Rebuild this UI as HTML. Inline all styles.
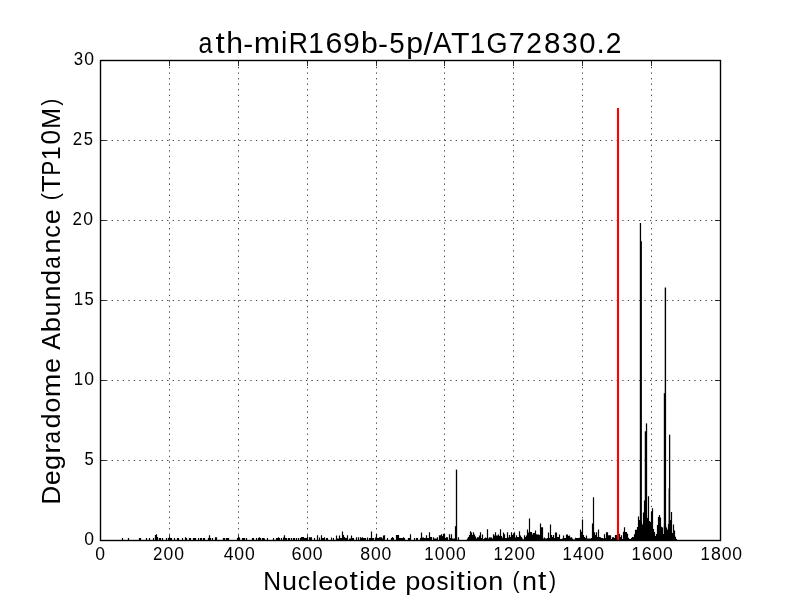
<!DOCTYPE html><html><head><meta charset="utf-8"><style>html,body{margin:0;padding:0;background:#fff;}svg{display:block;will-change:transform;}text{font-family:"Liberation Sans",sans-serif;fill:#000;}</style></head><body>
<svg width="800" height="600" viewBox="0 0 800 600" role="img" aria-label="ath-miR169b-5p/AT1G72830.2 degradome plot">
<rect x="0" y="0" width="800" height="600" fill="#fff"/>
<path d="M169.50 540.5V60.5M238.50 540.5V60.5M307.50 540.5V60.5M376.50 540.5V60.5M444.50 540.5V60.5M513.50 540.5V60.5M582.50 540.5V60.5M651.50 540.5V60.5" stroke="#000" stroke-width="0.7" stroke-dasharray="1.39 4.166" fill="none"/>
<path d="M100.5 460.50H720.5M100.5 380.50H720.5M100.5 300.50H720.5M100.5 220.50H720.5M100.5 140.50H720.5" stroke="#000" stroke-width="0.7" stroke-dasharray="1.387 4.163" fill="none"/>
<path d="M122.5 540.5V538M128.5 540.5V538M139.5 540.5V538M140.5 540.5V538M146.5 540.5V538M149.5 540.5V538M153.5 540.5V538M155.5 540.5V535M156.5 540.5V534.25M157.5 540.5V537M159.5 540.5V538M160.5 540.5V538M162.5 540.5V538M166.5 540.5V538M168.5 540.5V538M169.5 540.5V537M170.5 540.5V538M171.5 540.5V538M174.5 540.5V538M177.5 540.5V538M178.5 540.5V538M182.5 540.5V538M185.5 540.5V537.25M186.5 540.5V538M189.5 540.5V538M190.5 540.5V538M193.5 540.5V538M194.5 540.5V538M195.5 540.5V538M198.5 540.5V538M200.5 540.5V538M201.5 540.5V538M203.5 540.5V538M204.5 540.5V538M208.5 540.5V538M209.5 540.5V535.25M210.5 540.5V538M212.5 540.5V538M215.5 540.5V537.25M216.5 540.5V537.25M223.5 540.5V538M224.5 540.5V538M226.5 540.5V538M227.5 540.5V538M228.5 540.5V538M237.5 540.5V538M238.5 540.5V537M239.5 540.5V537.5M242.5 540.5V538M243.5 540.5V538M244.5 540.5V538M246.5 540.5V538M252.5 540.5V538M253.5 540.5V538M256.5 540.5V538M258.5 540.5V538M259.5 540.5V537.25M260.5 540.5V538M262.5 540.5V538M263.5 540.5V538M264.5 540.5V538.5M267.5 540.5V538M273.5 540.5V538M276.5 540.5V538M277.5 540.5V538M278.5 540.5V537.25M279.5 540.5V538M281.5 540.5V538M283.5 540.5V537.5M284.5 540.5V535.25M285.5 540.5V538M286.5 540.5V538M288.5 540.5V538M289.5 540.5V538M291.5 540.5V538M293.5 540.5V538M294.5 540.5V538M296.5 540.5V538M298.5 540.5V538M300.5 540.5V538M301.5 540.5V537M302.5 540.5V537M303.5 540.5V537M304.5 540.5V538M305.5 540.5V538M306.5 540.5V538M307.5 540.5V537M309.5 540.5V537.25M310.5 540.5V537.25M311.5 540.5V537.25M314.5 540.5V538M317.5 540.5V535.25M319.5 540.5V537.5M321.5 540.5V535.25M322.5 540.5V538M323.5 540.5V538M324.5 540.5V537.25M326.5 540.5V538M327.5 540.5V538M331.5 540.5V537.5M333.5 540.5V538M336.5 540.5V535.5M337.5 540.5V538.5M338.5 540.5V538.5M339.5 540.5V535.5M340.5 540.5V538M341.5 540.5V538M342.5 540.5V531.5M343.5 540.5V535M344.5 540.5V537M345.5 540.5V538M346.5 540.5V538M347.5 540.5V535.25M349.5 540.5V538.5M350.5 540.5V538.5M351.5 540.5V535.5M352.5 540.5V538M353.5 540.5V538M356.5 540.5V537.25M358.5 540.5V537.25M360.5 540.5V537.25M361.5 540.5V538M362.5 540.5V537.25M363.5 540.5V538M364.5 540.5V538M365.5 540.5V538M367.5 540.5V537.5M369.5 540.5V538M370.5 540.5V538M371.5 540.5V531.5M372.5 540.5V538M373.5 540.5V538M375.5 540.5V537.5M376.5 540.5V534M377.5 540.5V538M378.5 540.5V538M379.5 540.5V537.25M380.5 540.5V537.25M381.5 540.5V537.25M382.5 540.5V538.5M383.5 540.5V535.5M384.5 540.5V535.25M387.5 540.5V538M391.5 540.5V538M392.5 540.5V537M393.5 540.5V538M396.5 540.5V535M397.5 540.5V535M398.5 540.5V535M399.5 540.5V538M400.5 540.5V538M401.5 540.5V538M402.5 540.5V538M403.5 540.5V537.25M404.5 540.5V538M408.5 540.5V538M409.5 540.5V538M410.5 540.5V534.25M414.5 540.5V538M416.5 540.5V538M417.5 540.5V538M420.5 540.5V538M421.5 540.5V532.5M422.5 540.5V537.5M423.5 540.5V537.5M424.5 540.5V538M425.5 540.5V538M426.5 540.5V535.25M427.5 540.5V538M428.5 540.5V538M429.5 540.5V532.25M430.5 540.5V537M431.5 540.5V537M433.5 540.5V537.25M434.5 540.5V538.5M435.5 540.5V538.5M436.5 540.5V538.5M437.5 540.5V537.25M439.5 540.5V535.25M440.5 540.5V535.25M441.5 540.5V534.25M442.5 540.5V536M443.5 540.5V533.75M444.5 540.5V533.75M445.5 540.5V538M446.5 540.5V537.25M447.5 540.5V537.25M449.5 540.5V534.25M450.5 540.5V538M451.5 540.5V534.25M452.5 540.5V538.5M453.5 540.5V538.5M454.5 540.5V538.5M455.5 540.5V526.25M456.5 540.5V537M458.5 540.5V537.25M467.5 540.5V538.5M468.5 540.5V537M469.5 540.5V535M470.5 540.5V531.25M471.5 540.5V532.5M472.5 540.5V535M473.5 540.5V532.25M474.5 540.5V534.5M475.5 540.5V536.5M476.5 540.5V538.5M477.5 540.5V537.25M478.5 540.5V537.25M479.5 540.5V535.5M480.5 540.5V532.25M481.5 540.5V538M482.5 540.5V534.5M483.5 540.5V539M484.5 540.5V538.25M485.5 540.5V537.5M486.5 540.5V538M487.5 540.5V529.25M488.5 540.5V538.5M489.5 540.5V537.25M490.5 540.5V537.5M491.5 540.5V537.5M492.5 540.5V538.5M493.5 540.5V534.25M494.5 540.5V535.5M495.5 540.5V532.25M496.5 540.5V535.5M497.5 540.5V535.5M498.5 540.5V534.5M499.5 540.5V536M500.5 540.5V529.25M501.5 540.5V536M502.5 540.5V537.75M503.5 540.5V532.5M504.5 540.5V534.25M505.5 540.5V538M506.5 540.5V538M507.5 540.5V532.25M508.5 540.5V537.5M509.5 540.5V535M510.5 540.5V537M511.5 540.5V532.25M512.5 540.5V535M513.5 540.5V533.5M514.5 540.5V532.25M515.5 540.5V537.5M516.5 540.5V535.25M517.5 540.5V537M518.5 540.5V537M519.5 540.5V531.25M520.5 540.5V535.5M521.5 540.5V537M522.5 540.5V538.5M523.5 540.5V539.5M524.5 540.5V535.25M525.5 540.5V537M526.5 540.5V535.5M527.5 540.5V529.5M528.5 540.5V532.5M529.5 540.5V518.5M530.5 540.5V532M531.5 540.5V532M532.5 540.5V534.5M533.5 540.5V533M534.5 540.5V533M535.5 540.5V530.5M536.5 540.5V534.25M537.5 540.5V534.5M538.5 540.5V534.5M539.5 540.5V535M540.5 540.5V523.5M541.5 540.5V527.25M542.5 540.5V527.25M543.5 540.5V538.5M544.5 540.5V537.5M545.5 540.5V538.5M546.5 540.5V538.5M547.5 540.5V538M548.5 540.5V532.5M549.5 540.5V538M550.5 540.5V524.5M551.5 540.5V535M552.5 540.5V537M553.5 540.5V535M554.5 540.5V538M555.5 540.5V532.5M556.5 540.5V532.5M557.5 540.5V537M558.5 540.5V537M559.5 540.5V534.5M560.5 540.5V539M561.5 540.5V539M562.5 540.5V538.5M563.5 540.5V535.5M564.5 540.5V538M565.5 540.5V538M566.5 540.5V534.5M567.5 540.5V534.5M568.5 540.5V536M569.5 540.5V535.5M570.5 540.5V537.5M571.5 540.5V537.25M572.5 540.5V538.5M573.5 540.5V539.5M574.5 540.5V539.5M575.5 540.5V537.7M576.5 540.5V538M577.5 540.5V538M578.5 540.5V538M579.5 540.5V537.7M580.5 540.5V529.4M581.5 540.5V531.7M582.5 540.5V519.4M583.5 540.5V535M584.5 540.5V537M585.5 540.5V538M586.5 540.5V535.4M587.5 540.5V538.5M588.5 540.5V538.5M589.5 540.5V538.5M590.5 540.5V538.5M591.5 540.5V538M592.5 540.5V523.5M593.5 540.5V497.3M594.5 540.5V532.2M595.5 540.5V535M596.5 540.5V532.2M597.5 540.5V537M598.5 540.5V529.4M599.5 540.5V537M600.5 540.5V537.3M601.5 540.5V538M602.5 540.5V538M603.5 540.5V538.5M604.5 540.5V534.3M605.5 540.5V538M606.5 540.5V532.3M607.5 540.5V532.3M608.5 540.5V535.3M609.5 540.5V535.3M610.5 540.5V535.3M611.5 540.5V539M612.5 540.5V537.3M613.5 540.5V537.3M614.5 540.5V538M615.5 540.5V535M616.5 540.5V535M619.5 540.5V533.7M620.5 540.5V537M621.5 540.5V535.3M622.5 540.5V539M623.5 540.5V531.7M624.5 540.5V527.3M625.5 540.5V532M626.5 540.5V532M627.5 540.5V533.7M628.5 540.5V537.7M629.5 540.5V539M630.5 540.5V539M631.5 540.5V538M632.5 540.5V537M633.5 540.5V537M634.5 540.5V534.3M635.5 540.5V529.7M636.5 540.5V529.7M637.5 540.5V527M638.5 540.5V516.5M639.5 540.5V520M640.5 540.5V520M641.5 540.5V522M642.5 540.5V524.4M643.5 540.5V512.5M644.5 540.5V500.6M645.5 540.5V515M646.5 540.5V515M647.5 540.5V518M648.5 540.5V496.3M649.5 540.5V521M650.5 540.5V522M651.5 540.5V511.4M652.5 540.5V508.2M653.5 540.5V529M654.5 540.5V532M655.5 540.5V536M656.5 540.5V534M657.5 540.5V525M658.5 540.5V517M659.5 540.5V515M660.5 540.5V517.5M661.5 540.5V526.7M662.5 540.5V527.6M663.5 540.5V534M664.5 540.5V525M665.5 540.5V525M666.5 540.5V527.6M667.5 540.5V529.4M668.5 540.5V524M669.5 540.5V520M670.5 540.5V520M671.5 540.5V512M672.5 540.5V533M673.5 540.5V524.4M674.5 540.5V530.4M675.5 540.5V536.8M676.5 540.5V539" stroke="#000" stroke-width="1.2" fill="none"/>
<path d="M640.45 540.5V222.9" stroke="#000" stroke-width="1.3" fill="none"/>
<path d="M641.2 540.5V241.3" stroke="#000" stroke-width="1.4" fill="none"/>
<path d="M645.4 540.5V431.3" stroke="#000" stroke-width="1.3" fill="none"/>
<path d="M646.5 540.5V423.4" stroke="#000" stroke-width="1.3" fill="none"/>
<path d="M665.4 540.5V287.5" stroke="#000" stroke-width="1.4" fill="none"/>
<path d="M664.5 540.5V393.2" stroke="#000" stroke-width="1.4" fill="none"/>
<path d="M669.6 540.5V434.7" stroke="#000" stroke-width="1.3" fill="none"/>
<path d="M669.2 540.5V488.5" stroke="#000" stroke-width="1.2" fill="none"/>
<path d="M456.5 540.5V469.6" stroke="#000" stroke-width="1.3" fill="none"/>
<path d="M618.0 540.5V108.0" stroke="#f00" stroke-width="2.1" fill="none"/>
<path d="M100.50 540.5v-5.56M100.50 60.5v5.56M169.50 540.5v-5.56M169.50 60.5v5.56M238.50 540.5v-5.56M238.50 60.5v5.56M307.50 540.5v-5.56M307.50 60.5v5.56M376.50 540.5v-5.56M376.50 60.5v5.56M444.50 540.5v-5.56M444.50 60.5v5.56M513.50 540.5v-5.56M513.50 60.5v5.56M582.50 540.5v-5.56M582.50 60.5v5.56M651.50 540.5v-5.56M651.50 60.5v5.56M720.50 540.5v-5.56M720.50 60.5v5.56M100.5 540.50h5.56M720.5 540.50h-5.56M100.5 460.50h5.56M720.5 460.50h-5.56M100.5 380.50h5.56M720.5 380.50h-5.56M100.5 300.50h5.56M720.5 300.50h-5.56M100.5 220.50h5.56M720.5 220.50h-5.56M100.5 140.50h5.56M720.5 140.50h-5.56M100.5 60.50h5.56M720.5 60.50h-5.56" stroke="#000" stroke-width="0.8" fill="none"/>
<rect x="100.5" y="60.5" width="620" height="480" fill="none" stroke="#000" stroke-width="1.39"/>
<g aria-label="0"><text transform="matrix(1.0541 0 0 1.0683 95.31 560.36)" font-size="16.67">0</text></g>
<g aria-label="200"><text transform="matrix(1.0161 0 0 1.0629 152.95 560.30)" font-size="16.67">2</text><text transform="matrix(1.0541 0 0 1.0683 163.60 560.36)" font-size="16.67">0</text><text transform="matrix(1.0541 0 0 1.0683 174.20 560.36)" font-size="16.67">0</text></g>
<g aria-label="400"><text transform="matrix(1.0543 0 0 1.0596 223.70 560.30)" font-size="16.67">4</text><text transform="matrix(1.0541 0 0 1.0683 234.30 560.36)" font-size="16.67">0</text><text transform="matrix(1.0541 0 0 1.0683 244.91 560.36)" font-size="16.67">0</text></g>
<g aria-label="600"><text transform="matrix(1.0910 0 0 1.0683 291.48 560.36)" font-size="16.67">6</text><text transform="matrix(1.0541 0 0 1.0683 302.25 560.36)" font-size="16.67">0</text><text transform="matrix(1.0541 0 0 1.0683 312.86 560.36)" font-size="16.67">0</text></g>
<g aria-label="800"><text transform="matrix(1.0656 0 0 1.0683 360.33 560.36)" font-size="16.67">8</text><text transform="matrix(1.0541 0 0 1.0683 370.99 560.36)" font-size="16.67">0</text><text transform="matrix(1.0541 0 0 1.0683 381.59 560.36)" font-size="16.67">0</text></g>
<g aria-label="1000"><text transform="matrix(1.0068 0 0 1.0596 424.32 560.30)" font-size="16.67">1</text><text transform="matrix(1.0541 0 0 1.0683 434.79 560.36)" font-size="16.67">0</text><text transform="matrix(1.0541 0 0 1.0683 445.39 560.36)" font-size="16.67">0</text><text transform="matrix(1.0541 0 0 1.0683 456.00 560.36)" font-size="16.67">0</text></g>
<g aria-label="1200"><text transform="matrix(1.0068 0 0 1.0596 493.52 560.30)" font-size="16.67">1</text><text transform="matrix(1.0161 0 0 1.0629 503.94 560.30)" font-size="16.67">2</text><text transform="matrix(1.0541 0 0 1.0683 514.59 560.36)" font-size="16.67">0</text><text transform="matrix(1.0541 0 0 1.0683 525.20 560.36)" font-size="16.67">0</text></g>
<g aria-label="1400"><text transform="matrix(1.0068 0 0 1.0596 562.47 560.30)" font-size="16.67">1</text><text transform="matrix(1.0543 0 0 1.0596 572.94 560.30)" font-size="16.67">4</text><text transform="matrix(1.0541 0 0 1.0683 583.54 560.36)" font-size="16.67">0</text><text transform="matrix(1.0541 0 0 1.0683 594.15 560.36)" font-size="16.67">0</text></g>
<g aria-label="1600"><text transform="matrix(1.0068 0 0 1.0596 631.42 560.30)" font-size="16.67">1</text><text transform="matrix(1.0910 0 0 1.0683 641.71 560.36)" font-size="16.67">6</text><text transform="matrix(1.0541 0 0 1.0683 652.49 560.36)" font-size="16.67">0</text><text transform="matrix(1.0541 0 0 1.0683 663.10 560.36)" font-size="16.67">0</text></g>
<g aria-label="1800"><text transform="matrix(1.0068 0 0 1.0596 700.62 560.30)" font-size="16.67">1</text><text transform="matrix(1.0656 0 0 1.0683 711.03 560.36)" font-size="16.67">8</text><text transform="matrix(1.0541 0 0 1.0683 721.69 560.36)" font-size="16.67">0</text><text transform="matrix(1.0541 0 0 1.0683 732.30 560.36)" font-size="16.67">0</text></g>
<g aria-label="0"><text transform="matrix(1.0541 0 0 1.0683 84.16 544.66)" font-size="16.67">0</text></g>
<g aria-label="5"><text transform="matrix(0.9949 0 0 1.0651 84.47 464.66)" font-size="16.67">5</text></g>
<g aria-label="10"><text transform="matrix(1.0068 0 0 1.0596 73.70 384.60)" font-size="16.67">1</text><text transform="matrix(1.0541 0 0 1.0683 84.16 384.66)" font-size="16.67">0</text></g>
<g aria-label="15"><text transform="matrix(1.0068 0 0 1.0596 73.80 304.60)" font-size="16.67">1</text><text transform="matrix(0.9949 0 0 1.0651 84.47 304.66)" font-size="16.67">5</text></g>
<g aria-label="20"><text transform="matrix(1.0161 0 0 1.0629 72.51 224.60)" font-size="16.67">2</text><text transform="matrix(1.0541 0 0 1.0683 83.16 224.66)" font-size="16.67">0</text></g>
<g aria-label="25"><text transform="matrix(1.0161 0 0 1.0629 72.86 144.60)" font-size="16.67">2</text><text transform="matrix(0.9949 0 0 1.0651 83.72 144.66)" font-size="16.67">5</text></g>
<g aria-label="30"><text transform="matrix(1.0124 0 0 1.0683 73.77 64.66)" font-size="16.67">3</text><text transform="matrix(1.0541 0 0 1.0683 84.16 64.66)" font-size="16.67">0</text></g>
<g aria-label="ath-miR169b-5p/AT1G72830.2"><text transform="matrix(0.8992 0 0 1.0481 198.39 52.91)" font-size="27.78">a</text><text transform="matrix(1.2000 0 0 1.0731 215.53 52.57)" font-size="27.78">t</text><text transform="matrix(1.0856 0 0 1.0485 226.13 52.80)" font-size="27.78">h</text><text transform="matrix(1.0780 0 0 1.0250 243.33 52.75)" font-size="27.78">-</text><text transform="matrix(1.1394 0 0 1.0408 253.75 52.80)" font-size="27.78">m</text><text transform="matrix(1.0222 0 0 1.0485 281.11 52.80)" font-size="27.78">i</text><text transform="matrix(0.9564 0 0 1.0596 288.65 52.80)" font-size="27.78">R</text><text transform="matrix(1.0068 0 0 1.0596 308.33 52.80)" font-size="27.78">1</text><text transform="matrix(1.0910 0 0 1.0683 325.48 52.90)" font-size="27.78">6</text><text transform="matrix(1.0888 0 0 1.0683 343.09 52.90)" font-size="27.78">9</text><text transform="matrix(1.0879 0 0 1.0539 361.01 52.91)" font-size="27.78">b</text><text transform="matrix(1.0780 0 0 1.0250 378.09 52.75)" font-size="27.78">-</text><text transform="matrix(0.9949 0 0 1.0651 389.13 52.90)" font-size="27.78">5</text><text transform="matrix(1.0879 0 0 1.0308 406.34 52.64)" font-size="27.78">p</text><text transform="matrix(1.2000 0 0 1.1190 423.45 55.07)" font-size="27.78">/</text><text transform="matrix(1.0074 0 0 1.0596 432.92 52.80)" font-size="27.78">A</text><text transform="matrix(1.0907 0 0 1.0596 451.00 52.80)" font-size="27.78">T</text><text transform="matrix(1.0068 0 0 1.0596 469.65 52.80)" font-size="27.78">1</text><text transform="matrix(0.9753 0 0 1.0683 486.60 52.90)" font-size="27.78">G</text><text transform="matrix(1.0311 0 0 1.0596 508.74 52.80)" font-size="27.78">7</text><text transform="matrix(1.0161 0 0 1.0629 526.22 52.80)" font-size="27.78">2</text><text transform="matrix(1.0656 0 0 1.0683 543.88 52.90)" font-size="27.78">8</text><text transform="matrix(1.0124 0 0 1.0683 562.00 52.90)" font-size="27.78">3</text><text transform="matrix(1.0541 0 0 1.0683 579.32 52.90)" font-size="27.78">0</text><text transform="matrix(1.0821 0 0 1.1598 596.53 52.80)" font-size="27.78">.</text><text transform="matrix(1.0161 0 0 1.0629 605.75 52.80)" font-size="27.78">2</text></g>
<g aria-label="Nucleotide position (nt)"><text transform="matrix(0.9878 0 0 1.0596 263.27 589.90)" font-size="25">N</text><text transform="matrix(1.0782 0 0 1.0672 281.92 589.99)" font-size="25">u</text><text transform="matrix(1.0034 0 0 1.0481 297.71 590.00)" font-size="25">c</text><text transform="matrix(1.0222 0 0 1.0485 311.77 589.90)" font-size="25">l</text><text transform="matrix(1.0801 0 0 1.0481 318.32 590.00)" font-size="25">e</text><text transform="matrix(1.0631 0 0 1.0481 333.73 590.00)" font-size="25">o</text><text transform="matrix(1.2000 0 0 1.0731 349.41 589.69)" font-size="25">t</text><text transform="matrix(1.0222 0 0 1.0485 359.21 589.90)" font-size="25">i</text><text transform="matrix(1.0869 0 0 1.0539 365.75 590.00)" font-size="25">d</text><text transform="matrix(1.0801 0 0 1.0481 381.61 590.00)" font-size="25">e</text><text transform="matrix(1.0879 0 0 1.0308 405.22 589.75)" font-size="25">p</text><text transform="matrix(1.0631 0 0 1.0481 420.84 590.00)" font-size="25">o</text><text transform="matrix(0.9586 0 0 1.0509 436.56 590.00)" font-size="25">s</text><text transform="matrix(1.0222 0 0 1.0485 449.54 589.90)" font-size="25">i</text><text transform="matrix(1.2000 0 0 1.0731 456.49 589.69)" font-size="25">t</text><text transform="matrix(1.0222 0 0 1.0485 466.29 589.90)" font-size="25">i</text><text transform="matrix(1.0631 0 0 1.0481 472.85 590.00)" font-size="25">o</text><text transform="matrix(1.0782 0 0 1.0408 488.36 589.90)" font-size="25">n</text><text transform="matrix(0.8500 0 0 0.9560 512.49 588.25)" font-size="25">(</text><text transform="matrix(1.0782 0 0 1.0408 521.91 589.90)" font-size="25">n</text><text transform="matrix(1.2000 0 0 1.0731 537.93 589.69)" font-size="25">t</text><text transform="matrix(0.8500 0 0 0.9560 548.94 588.25)" font-size="25">)</text></g>
<g transform="translate(59.75,502.35) rotate(-90)"><g aria-label="Degradome Abundance (TP10M)"><text transform="matrix(1.0346 0 0 1.0596 -2.12 0.00)" font-size="25">D</text><text transform="matrix(1.0801 0 0 1.0481 17.03 0.10)" font-size="25">e</text><text transform="matrix(1.0869 0 0 1.0322 32.42 -0.15)" font-size="25">g</text><text transform="matrix(1.2000 0 0 1.0408 48.58 0.00)" font-size="25">r</text><text transform="matrix(0.8992 0 0 1.0481 58.87 0.10)" font-size="25">a</text><text transform="matrix(1.0869 0 0 1.0539 73.88 0.10)" font-size="25">d</text><text transform="matrix(1.0631 0 0 1.0481 89.78 0.10)" font-size="25">o</text><text transform="matrix(1.1394 0 0 1.0408 105.19 0.00)" font-size="25">m</text><text transform="matrix(1.0801 0 0 1.0481 129.39 0.10)" font-size="25">e</text><text transform="matrix(1.0074 0 0 1.0596 152.64 0.00)" font-size="25">A</text><text transform="matrix(1.0879 0 0 1.0539 170.11 0.10)" font-size="25">b</text><text transform="matrix(1.0782 0 0 1.0672 185.84 0.09)" font-size="25">u</text><text transform="matrix(1.0782 0 0 1.0408 201.79 0.00)" font-size="25">n</text><text transform="matrix(1.0869 0 0 1.0539 217.39 0.10)" font-size="25">d</text><text transform="matrix(0.8992 0 0 1.0481 233.57 0.10)" font-size="25">a</text><text transform="matrix(1.0782 0 0 1.0408 248.82 0.00)" font-size="25">n</text><text transform="matrix(1.0034 0 0 1.0481 264.50 0.10)" font-size="25">c</text><text transform="matrix(1.0801 0 0 1.0481 278.16 0.10)" font-size="25">e</text><text transform="matrix(0.8500 0 0 0.9560 302.07 -1.65)" font-size="25">(</text><text transform="matrix(1.0907 0 0 1.0596 310.33 0.00)" font-size="25">T</text><text transform="matrix(0.8844 0 0 1.0596 326.92 0.00)" font-size="25">P</text><text transform="matrix(1.0068 0 0 1.0596 342.19 0.00)" font-size="25">1</text><text transform="matrix(1.0541 0 0 1.0683 357.88 0.09)" font-size="25">0</text><text transform="matrix(0.9971 0 0 1.0596 373.58 0.00)" font-size="25">M</text><text transform="matrix(0.8500 0 0 0.9560 396.60 -1.65)" font-size="25">)</text></g></g>
</svg></body></html>
